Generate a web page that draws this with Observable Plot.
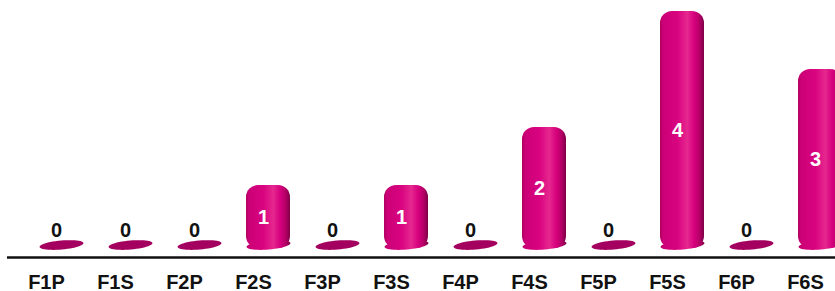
<!DOCTYPE html>
<html>
<head>
<meta charset="utf-8">
<script src="https://cdn.jsdelivr.net/npm/d3@7"></script>
<script src="https://cdn.jsdelivr.net/npm/@observablehq/plot@0.6"></script>
<style>
  html, body { margin: 0; padding: 0; background: #fff; overflow: hidden; }
</style>
</head>
<body>
<div id="chart"></div>
<script>
const categories = ["F1P","F1S","F2P","F2S","F3P","F3S","F4P","F4S","F5P","F5S","F6P","F6S"];
const values = [0,0,0,1,0,1,0,2,0,4,0,3];

const data = categories.map((c, i) => ({category: c, value: values[i]}));
const nonzero = data.filter(d => d.value > 0);
const zeros = data.filter(d => d.value === 0);

// flat, slightly tilted ellipse used for zero values and bar bases
const ellipseSymbol = {
  draw(ctx) {
    const a = 22, b = 4.5, t = -5 * Math.PI / 180, n = 48;
    for (let i = 0; i <= n; i++) {
      const th = 2 * Math.PI * i / n;
      const x = a * Math.cos(th), y = b * Math.sin(th);
      const X = x * Math.cos(t) - y * Math.sin(t);
      const Y = x * Math.sin(t) + y * Math.cos(t);
      if (i === 0) ctx.moveTo(X, Y); else ctx.lineTo(X, Y);
    }
    ctx.closePath();
  }
};

const chart = Plot.plot({
  width: 835,
  height: 291,
  marginLeft: 7,
  marginRight: 0,
  marginTop: 0,
  marginBottom: 34,
  style: {fontFamily: "'Liberation Sans', Arial, sans-serif", background: "#fff", overflow: "visible"},
  x: {domain: categories, range: [10.4, 841.6], paddingInner: 0.36, paddingOuter: 0.18, axis: null},
  y: {domain: [0, 4], range: [243, 11], axis: null},
  marks: [
    Plot.dot(nonzero, {x: "category", y: d => 0, symbol: ellipseSymbol, fill: "url(#barGrad)", stroke: "none", dx: 15, dy: 1.5}),
    Plot.barY(nonzero, {x: "category", y: "value", fill: "url(#barGrad)", rx: 12, ry: 12, insetBottom: -5, dx: 15}),
    Plot.dot(zeros, {x: "category", y: "value", symbol: ellipseSymbol, fill: "#a3005f", stroke: "none", dx: 15, dy: 1.5}),
    Plot.text(zeros, {x: "category", y: "value", text: d => String(d.value), fill: "#111", fontSize: 20, fontWeight: "bold", dx: 10, dy: -13}),
    Plot.text(nonzero, {x: "category", y: d => d.value / 2, text: d => String(d.value), fill: "#fff", fontSize: 20, fontWeight: "bold", dx: 10, dy: 3}),
    Plot.ruleY([0], {stroke: "#111", strokeWidth: 2.5, dy: 14}),
    Plot.text(data, {x: "category", text: "category", frameAnchor: "bottom", lineAnchor: "bottom", dy: 31, fill: "#111", fontSize: 20, fontWeight: "bold"})
  ]
});

// gradient definitions for the cylinder shading
const NS = "http://www.w3.org/2000/svg";
const defs = document.createElementNS(NS, "defs");
function grad(id, stops) {
  const g = document.createElementNS(NS, "linearGradient");
  g.setAttribute("id", id);
  g.setAttribute("x1", "0"); g.setAttribute("y1", "0");
  g.setAttribute("x2", "1"); g.setAttribute("y2", "0");
  for (const [o, c] of stops) {
    const s = document.createElementNS(NS, "stop");
    s.setAttribute("offset", o);
    s.setAttribute("stop-color", c);
    g.appendChild(s);
  }
  defs.appendChild(g);
}
grad("barGrad", [
  [0, "#b0005f"], [0.07, "#cc0077"], [0.4, "#d90480"], [0.62, "#e6288f"],
  [0.78, "#d6007d"], [0.9, "#b40066"], [1, "#7e0046"]
]);
const svg = chart.tagName.toLowerCase() === "svg" ? chart : chart.querySelector("svg");
svg.insertBefore(defs, svg.firstChild);

document.getElementById("chart").appendChild(chart);
</script>
</body>
</html>
